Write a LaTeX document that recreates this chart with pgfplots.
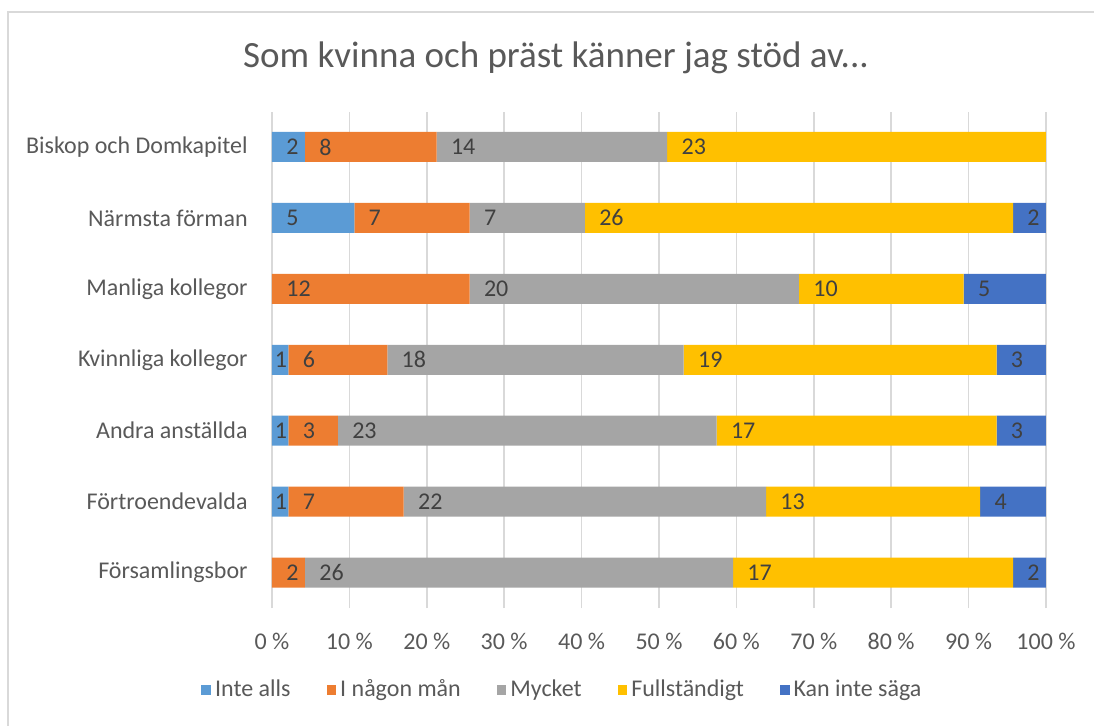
\documentclass[border=0pt]{standalone}
\usepackage{fontspec}
\setmainfont{Carlito}
\usepackage{pgfplots}
\usepackage{pgfplotstable}
\pgfplotsset{compat=1.18}
\definecolor{cA}{RGB}{91,155,213}
\definecolor{cB}{RGB}{237,125,49}
\definecolor{cC}{RGB}{165,165,165}
\definecolor{cD}{RGB}{255,192,0}
\definecolor{cE}{RGB}{68,114,196}
\definecolor{txt}{RGB}{89,89,89}
\definecolor{lbl}{RGB}{64,64,64}
\definecolor{gridc}{RGB}{217,217,217}
\pgfplotstableread{
idx a b c d e
0 0 2 26 17 2
1 1 7 22 13 4
2 1 3 23 17 3
3 1 6 18 19 3
4 0 12 20 10 5
5 5 7 7 26 2
6 2 8 14 23 0
}\data
\newcommand\seglabel{\pgfmathparse{\val>0.5 ? 1 : 0}\ifnum\pgfmathresult=1 \pgfmathprintnumber{\val}\fi}
\pgfplotsset{geom/.style={width=387pt, height=248.25pt, scale only axis,
  xmin=0, xmax=47, ymin=-0.5, ymax=6.5}}
\begin{document}
\begin{tikzpicture}[x=1pt,y=1pt]
\begin{axis}[
  geom,
  xbar stacked, bar width=15pt,
  axis line style={draw=none},
  major tick length=0pt,
  xmajorgrids, grid style={gridc, line width=0.75pt},
  ytick={0,...,6},
  yticklabels={Församlingsbor, Förtroendevalda, Andra anställda, Kvinnliga kollegor, Manliga kollegor, Närmsta förman, Biskop och Domkapitel},
  xtick={0,4.7,9.4,14.1,18.8,23.5,28.2,32.9,37.6,42.3,47},
  xticklabels={0 \%,10 \%,20 \%,30 \%,40 \%,50 \%,60 \%,70 \%,80 \%,90 \%,100 \%},
  ticklabel style={font=\fontsize{12}{14}\selectfont, text=txt},
  yticklabel style={anchor=east, inner sep=0pt, xshift=-12pt},
  xticklabel style={anchor=north, inner sep=0pt, yshift=-12.5pt},
  legend style={draw=none, fill=none, at={(0.3766,-0.165)}, anchor=center,
     legend columns=-1, font=\fontsize{12}{14}\selectfont, text=txt,
     /tikz/every even column/.append style={column sep=16pt}},
  legend cell align=left,
  legend image code/.code={\fill[#1] (0pt,-2.4pt) rectangle (4.8pt,2.4pt);},
]
\addplot[fill=cA, draw=none] table[x=a,y=idx]{\data};
\addplot[fill=cB, draw=none] table[x=b,y=idx]{\data};
\addplot[fill=cC, draw=none] table[x=c,y=idx]{\data};
\addplot[fill=cD, draw=none] table[x=d,y=idx]{\data};
\addplot[fill=cE, draw=none] table[x=e,y=idx]{\data};
\legend{Inte alls, I någon mån, Mycket, Fullständigt, Kan inte säga}
\coordinate (O) at (rel axis cs:0,0);
\end{axis}
\begin{axis}[
  geom, hide axis, clip=false,
  /pgf/number format/assume math mode=true,
  nodes near coords={\seglabel},
  every node near coord/.append style={anchor=west, inner sep=0pt, text=lbl,
     font=\fontsize{12}{14}\selectfont,
     xshift={min(7,\val*8.23404-7)}},
]
\addplot[only marks, mark=none, visualization depends on={\thisrow{a}\as\val}] table[x expr=0, y=idx]{\data};
\addplot[only marks, mark=none, visualization depends on={\thisrow{b}\as\val}] table[x expr=\thisrow{a}, y=idx]{\data};
\addplot[only marks, mark=none, visualization depends on={\thisrow{c}\as\val}] table[x expr=\thisrow{a}+\thisrow{b}, y=idx]{\data};
\addplot[only marks, mark=none, visualization depends on={\thisrow{d}\as\val}] table[x expr=\thisrow{a}+\thisrow{b}+\thisrow{c}, y=idx]{\data};
\addplot[only marks, mark=none, visualization depends on={\thisrow{e}\as\val}] table[x expr=\thisrow{a}+\thisrow{b}+\thisrow{c}+\thisrow{d}, y=idx]{\data};
\end{axis}
\node[text=txt, font=\fontsize{18.5}{22}\selectfont, anchor=base] at ([xshift=142pt,yshift=270pt]O) {Som kvinna och präst känner jag stöd av...};
\draw[gridc, line width=0.75pt] ([xshift=-132pt,yshift=-60pt]O) -- ([xshift=-132pt,yshift=298pt]O) -- ([xshift=412pt,yshift=298pt]O);
\pgfresetboundingbox
\useasboundingbox (O) ++(-136,-58.5) rectangle ++(547,362.5);
\end{tikzpicture}
\end{document}
